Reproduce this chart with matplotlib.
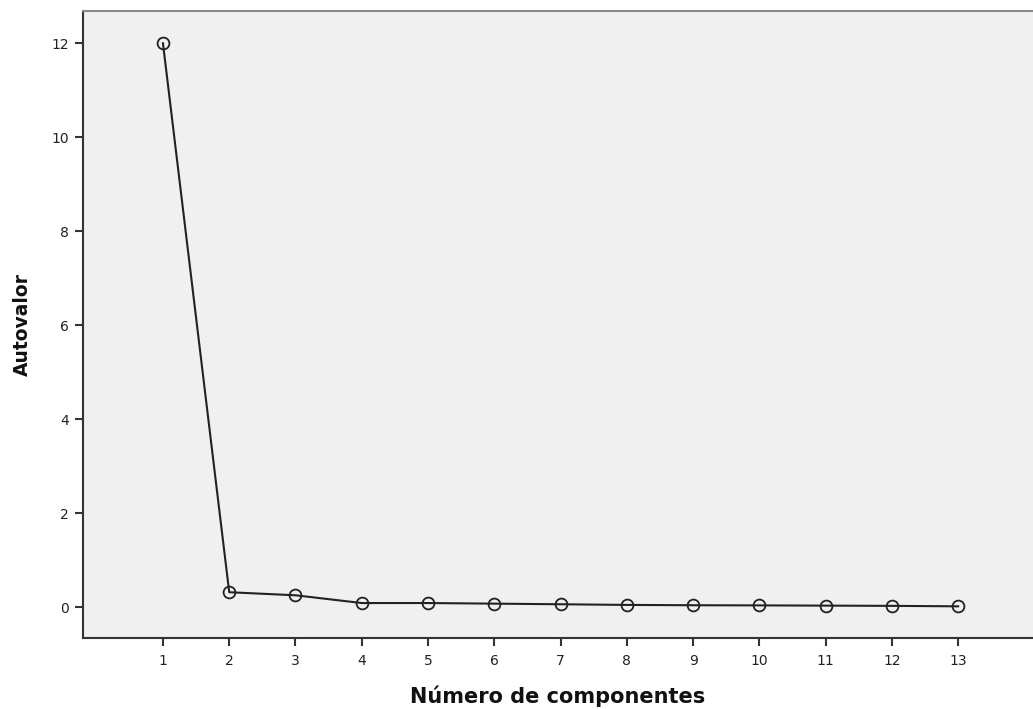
import matplotlib
matplotlib.use("Agg")
import matplotlib.pyplot as plt

components = list(range(1, 14))
eigenvalues = [12.0, 0.32, 0.255, 0.09, 0.09, 0.077, 0.064, 0.05, 0.043, 0.04, 0.035, 0.03, 0.02]
yticks = [0, 2, 4, 6, 8, 10, 12]

fig = plt.figure(figsize=(10.33, 7.09), dpi=100)
ax = fig.add_axes([0.080, 0.1006, 0.920, 0.8839])
ax.set_facecolor("#f0f0f0")

ax.plot(components, eigenvalues, color="#222222", lw=1.5, marker="o",
        markersize=8.5, markerfacecolor="none", markeredgecolor="#222222",
        markeredgewidth=1.3)

ax.set_xlim(-0.212, 14.13)
ax.set_ylim(-0.647, 12.687)
ax.set_xticks(components)
ax.set_yticks(yticks)
ax.tick_params(axis="both", direction="out", length=6, width=1.5, color="#333333",
               labelsize=10, labelcolor="#222222")
ax.tick_params(axis="x", pad=6)
ax.tick_params(axis="y", pad=4)

for s in ["left", "bottom"]:
    ax.spines[s].set_color("#333333")
    ax.spines[s].set_linewidth(1.5)
ax.spines["top"].set_color("#888888")
ax.spines["top"].set_linewidth(1.5)
ax.spines["right"].set_visible(False)

ax.set_xlabel("Número de componentes", fontsize=15, fontweight="bold", labelpad=12, color="#111111")
ax.set_ylabel("Autovalor", fontsize=13.5, fontweight="bold", labelpad=14, color="#111111")

fig.savefig("out.png", dpi=100)
